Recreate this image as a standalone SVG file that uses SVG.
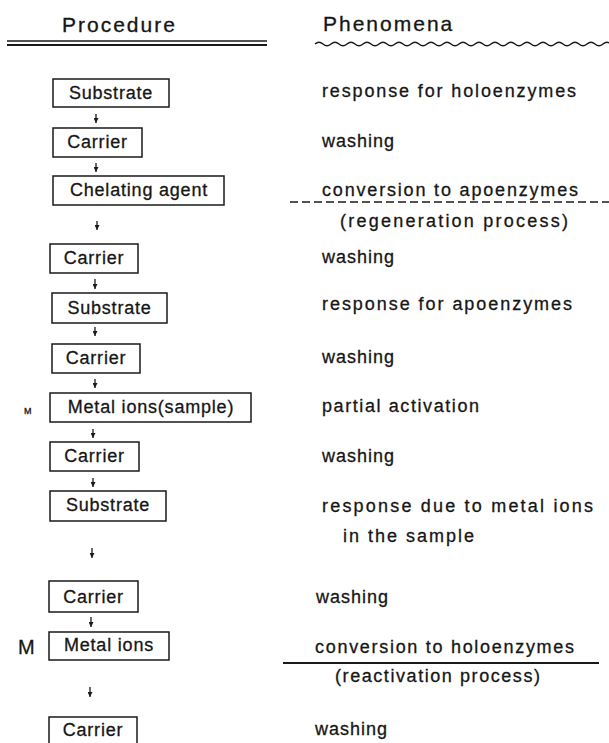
<svg xmlns="http://www.w3.org/2000/svg" width="609" height="743" viewBox="0 0 609 743">
<style>
  text { font-family: "Liberation Sans", Arial, sans-serif; fill: #161616; stroke: #161616; stroke-width: 0.3px; }
  .hd { font-size: 21px; letter-spacing: 2px; }
  .bx rect { fill: #fff; stroke: #1a1a1a; stroke-width: 1.5; }
  .bx text { font-size: 18px; letter-spacing: 0.8px; text-anchor: middle; }
  .ph { font-size: 18px; letter-spacing: 1px; }
  .arr line { stroke: #1a1a1a; stroke-width: 1.3; }
  .rule { stroke: #1a1a1a; fill: none; }
</style>
<defs>
  <marker id="ah" viewBox="0 0 6 6" refX="6" refY="3" markerWidth="5" markerHeight="5" orient="auto" markerUnits="userSpaceOnUse">
    <path d="M0,0 L6,3 L0,6 Z" fill="#1a1a1a"/>
  </marker>
</defs>
<rect width="609" height="743" fill="#fff"/>

<g id="headers">
  <text class="hd" x="62" y="32">Procedure</text>
  <line class="rule" x1="7" y1="41" x2="267" y2="41" stroke-width="1.3"/>
  <line class="rule" x1="7" y1="45" x2="267" y2="45" stroke-width="1.8"/>
  <text class="hd" x="323" y="31">Phenomena</text>
  <path class="rule" stroke-width="1.4" d="M315,44 q4,-3.4 8,0 t8,0 t8,0 t8,0 t8,0 t8,0 t8,0 t8,0 t8,0 t8,0 t8,0 t8,0 t8,0 t8,0 t8,0 t8,0 t8,0 t8,0 t8,0 t8,0 t8,0 t8,0 t8,0 t8,0 t8,0 t8,0 t8,0 t8,0 t8,0 t8,0 t8,0 t8,0 t8,0 t8,0 t8,0 t8,0 t8,0"/>
</g>

<g id="n1" class="bx"><rect x="53" y="79" width="116" height="28"/><text x="111" y="99">Substrate</text></g>
<g id="n2" class="bx"><rect x="53" y="128" width="89" height="29"/><text x="97.5" y="148">Carrier</text></g>
<g id="n3" class="bx"><rect x="53" y="176" width="171" height="29"/><text x="139" y="196">Chelating agent</text></g>
<g id="n4" class="bx"><rect x="50" y="244" width="88" height="29"/><text x="94" y="264">Carrier</text></g>
<g id="n5" class="bx"><rect x="52" y="293" width="115" height="30"/><text x="109.5" y="314">Substrate</text></g>
<g id="n6" class="bx"><rect x="52" y="344" width="88" height="29"/><text x="96" y="364">Carrier</text></g>
<g id="n7" class="bx"><rect x="50" y="393" width="201" height="29"/><text x="151" y="413">Metal ions(sample)</text></g>
<g id="n8" class="bx"><rect x="50" y="442" width="89" height="29"/><text x="94.5" y="462">Carrier</text></g>
<g id="n9" class="bx"><rect x="50" y="491" width="116" height="30"/><text x="108" y="511">Substrate</text></g>
<g id="n10" class="bx"><rect x="49" y="581" width="89" height="31"/><text x="93.5" y="603">Carrier</text></g>
<g id="n11" class="bx"><rect x="49" y="632" width="120" height="28"/><text x="109" y="651">Metal ions</text></g>
<g id="n12" class="bx"><rect x="49" y="717" width="88" height="30"/><text x="93" y="736">Carrier</text></g>

<g id="m-labels">
  <text x="24" y="414" style="font-size:9px;">M</text>
  <text x="18" y="654" style="font-size:20px;">M</text>
</g>

<g id="connectors" class="arr">
  <line x1="96" y1="114" x2="96" y2="123" marker-end="url(#ah)"/>
  <line x1="96" y1="163" x2="96" y2="172" marker-end="url(#ah)"/>
  <line x1="97" y1="221" x2="97" y2="230" marker-end="url(#ah)"/>
  <line x1="95" y1="279" x2="95" y2="289" marker-end="url(#ah)"/>
  <line x1="95" y1="327" x2="95" y2="336" marker-end="url(#ah)"/>
  <line x1="95" y1="379" x2="95" y2="388" marker-end="url(#ah)"/>
  <line x1="93" y1="429" x2="93" y2="438" marker-end="url(#ah)"/>
  <line x1="93" y1="478" x2="93" y2="487" marker-end="url(#ah)"/>
  <line x1="92" y1="548" x2="92" y2="558" marker-end="url(#ah)"/>
  <line x1="91" y1="617" x2="91" y2="627" marker-end="url(#ah)"/>
  <line x1="90" y1="687" x2="90" y2="697" marker-end="url(#ah)"/>
</g>

<g id="phenomena">
  <text class="ph" x="322" y="97" textLength="255" lengthAdjust="spacing">response for holoenzymes</text>
  <text class="ph" x="322" y="147">washing</text>
  <text class="ph" x="322" y="196" textLength="257" lengthAdjust="spacing">conversion to apoenzymes</text>
  <line class="rule" x1="290" y1="202" x2="609" y2="202" stroke-width="1.4" stroke-dasharray="8,4"/>
  <text class="ph" x="340" y="227" textLength="229" lengthAdjust="spacing">(regeneration process)</text>
  <text class="ph" x="322" y="263">washing</text>
  <text class="ph" x="322" y="310" textLength="251" lengthAdjust="spacing">response for apoenzymes</text>
  <text class="ph" x="322" y="363">washing</text>
  <text class="ph" x="322" y="412" textLength="158" lengthAdjust="spacing">partial activation</text>
  <text class="ph" x="322" y="462">washing</text>
  <text class="ph" x="322" y="512" textLength="272" lengthAdjust="spacing">response due to metal ions</text>
  <text class="ph" x="343" y="542" textLength="132" lengthAdjust="spacing">in the sample</text>
  <text class="ph" x="316" y="603">washing</text>
  <text class="ph" x="315" y="653" textLength="260" lengthAdjust="spacing">conversion to holoenzymes</text>
  <line class="rule" x1="283" y1="663" x2="599" y2="663" stroke-width="2"/>
  <text class="ph" x="335" y="682" textLength="206" lengthAdjust="spacing">(reactivation process)</text>
  <text class="ph" x="315" y="735">washing</text>
</g>
</svg>
